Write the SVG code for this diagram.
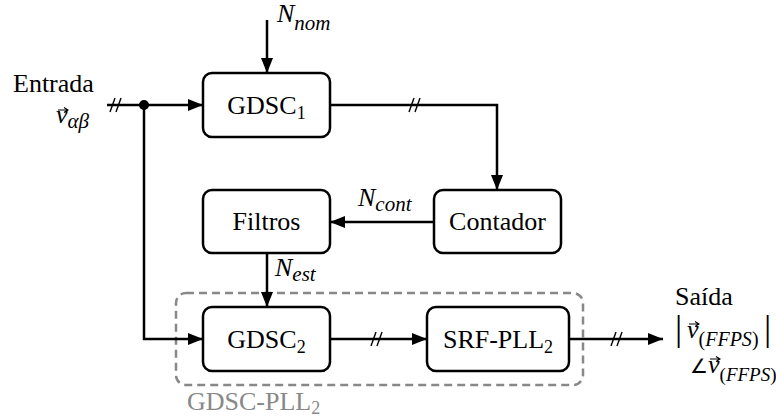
<svg xmlns="http://www.w3.org/2000/svg" width="776" height="419" viewBox="0 0 776 419" font-family="'Liberation Serif', serif">
<style>
  text { font-family: 'Liberation Serif', 'Times New Roman', serif; fill: #000; }
  .lbl { font-size: 26px; text-anchor: middle; }
  .sub { font-size: 18px; }
  .it { font-style: italic; }
  .box { fill: #fff; stroke: #000; stroke-width: 2.5; }
  .conn { fill: none; stroke: #000; stroke-width: 2.5; }
  .slash { stroke: #000; stroke-width: 1.4; }
  .vec { fill: none; stroke: #000; stroke-width: 1.1; }
</style>
<defs>
  <marker id="arr" markerUnits="userSpaceOnUse" markerWidth="15" markerHeight="12" refX="15" refY="6" orient="auto">
    <path d="M0,0 L15,6 L0,12 z" fill="#000"/>
  </marker>
</defs>

<g id="group-gdsc-pll2">
  <rect x="176" y="293" width="407" height="92" rx="10" fill="none" stroke="#888" stroke-width="2.5" stroke-dasharray="8 5"/>
  <text x="187" y="410" style="font-size:26px;fill:#888">GDSC-PLL<tspan class="sub" dy="4" style="fill:#888">2</tspan></text>
</g>

<g id="connectors">
  <path class="conn" d="M267,20 V73" marker-end="url(#arr)"/>
  <path class="conn" d="M107,105 H203" marker-end="url(#arr)"/>
  <path class="conn" d="M144,105 V339 H203" marker-end="url(#arr)"/>
  <path class="conn" d="M330,105 H497 V190" marker-end="url(#arr)"/>
  <path class="conn" d="M434,222 H330" marker-end="url(#arr)"/>
  <path class="conn" d="M267,253 V307" marker-end="url(#arr)"/>
  <path class="conn" d="M330,339 H427" marker-end="url(#arr)"/>
  <path class="conn" d="M569,339 H663" marker-end="url(#arr)"/>
  <circle cx="144" cy="105" r="5" fill="#000"/>
  <g class="slash">
    <line x1="110" y1="112" x2="115" y2="98"/><line x1="116" y1="112" x2="121" y2="98"/>
    <line x1="409" y1="112" x2="414" y2="98"/><line x1="415" y1="112" x2="420" y2="98"/>
    <line x1="371" y1="346" x2="376" y2="332"/><line x1="377" y1="346" x2="382" y2="332"/>
    <line x1="611" y1="346" x2="616" y2="332"/><line x1="617" y1="346" x2="622" y2="332"/>
  </g>
  <text x="277" y="22" class="it" style="font-size:26px">N<tspan dy="8" style="font-size:21px">nom</tspan></text>
  <text x="358" y="206" class="it" style="font-size:26px">N<tspan dy="5" style="font-size:21px">cont</tspan></text>
  <text x="275" y="276" class="it" style="font-size:26px">N<tspan dy="5" style="font-size:21px">est</tspan></text>
</g>

<g id="node-entrada">
  <text x="13" y="92" style="font-size:26px">Entrada</text>
  <text x="56" y="123" class="it" style="font-size:26px">v<tspan dy="5" style="font-size:21px">αβ</tspan></text>
  <path class="vec" d="M58,110 H68 M64,107.5 L68,110 L64,112.5"/>
</g>

<g id="node-gdsc1">
  <rect class="box" x="203" y="73" width="127" height="64" rx="9"/>
  <text class="lbl" x="266.5" y="114">GDSC<tspan class="sub" dy="5">1</tspan></text>
</g>

<g id="node-filtros">
  <rect class="box" x="203" y="190" width="127" height="63" rx="9"/>
  <text class="lbl" x="266.5" y="230">Filtros</text>
</g>

<g id="node-contador">
  <rect class="box" x="434" y="190" width="127" height="63" rx="9"/>
  <text class="lbl" x="497.5" y="230">Contador</text>
</g>

<g id="node-gdsc2">
  <rect class="box" x="203" y="307" width="127" height="64" rx="9"/>
  <text class="lbl" x="266.5" y="348">GDSC<tspan class="sub" dy="5">2</tspan></text>
</g>

<g id="node-srf-pll2">
  <rect class="box" x="427" y="307" width="142" height="64" rx="9"/>
  <text class="lbl" x="498" y="348">SRF-PLL<tspan class="sub" dy="5">2</tspan></text>
</g>

<g id="node-saida">
  <text x="675" y="305" style="font-size:26px">Saída</text>
  <text x="675" y="340" style="font-size:36px">|</text>
  <text x="687" y="338" class="it" style="font-size:26px">v<tspan dy="8" style="font-size:20px;font-style:normal">(</tspan><tspan style="font-size:20px">FFPS</tspan><tspan style="font-size:20px;font-style:normal">)</tspan></text>
  <text x="764" y="340" style="font-size:36px">|</text>
  <path class="vec" d="M689,324 H699 M695,321.5 L699,324 L695,326.5"/>
  <text x="690" y="373" style="font-size:26px"><tspan style="font-size:20px">∠</tspan><tspan x="708" class="it">v</tspan><tspan dy="8" style="font-size:19px">(</tspan><tspan class="it" style="font-size:19px">FFPS</tspan><tspan style="font-size:19px">)</tspan></text>
  <path class="vec" d="M710,359 H720 M716,356.5 L720,359 L716,361.5"/>
</g>
</svg>
